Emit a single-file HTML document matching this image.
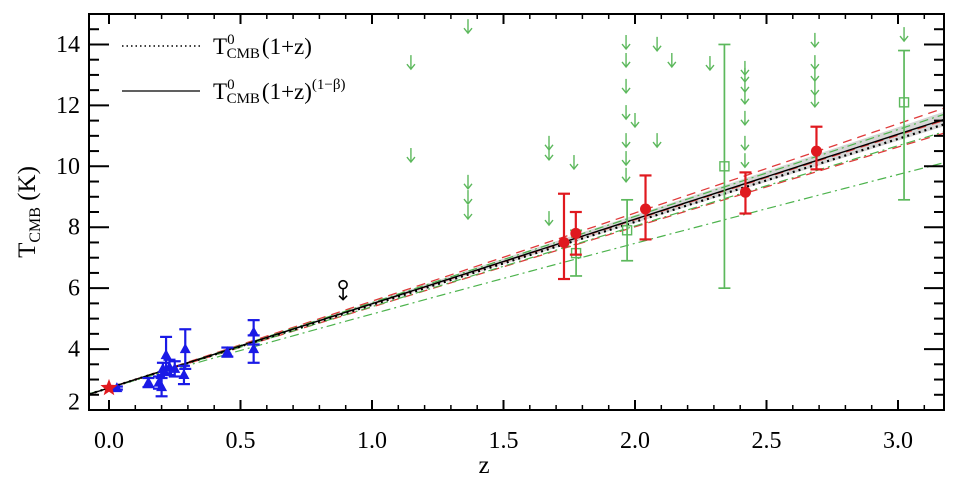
<!DOCTYPE html>
<html><head><meta charset="utf-8"><style>
html,body{margin:0;padding:0;background:#fff;}
svg{display:block;font-family:"Liberation Serif",serif;}
</style></head><body>
<svg id="chart" width="960" height="486" viewBox="0 0 960 486" xmlns="http://www.w3.org/2000/svg">
<g id="bands"></g>
<g id="marks"></g>
<g id="axes"></g>
<g>
<line x1="122" y1="46" x2="200" y2="46" stroke="#000" stroke-width="1.5" stroke-dasharray="1.5,3"/>
<text x="213" y="54" font-size="23">T<tspan font-size="15" dy="-10" dx="0">0</tspan><tspan font-size="15" dy="14" dx="-8">CMB</tspan><tspan dy="-4" dx="2">(1+z)</tspan></text>
<line x1="122" y1="91" x2="200" y2="91" stroke="#000" stroke-width="1.3"/>
<text x="213" y="99" font-size="23">T<tspan font-size="15" dy="-10">0</tspan><tspan font-size="15" dy="14" dx="-8">CMB</tspan><tspan dy="-4" dx="2">(1+z)</tspan><tspan font-size="15" dy="-10">(1−β)</tspan></text>
</g>
<text x="484" y="473" font-size="25" text-anchor="middle">z</text>
<text transform="translate(35,212) rotate(-90)" font-size="25" text-anchor="middle">T<tspan font-size="16" dy="5">CMB</tspan><tspan dy="-5"> (K)</tspan></text>
</svg>
<script>
const T0 = 2.725;
const xTicks = [0, 0.5, 1.0, 1.5, 2.0, 2.5, 3.0];
const xTickLabels = ["0.0","0.5","1.0","1.5","2.0","2.5","3.0"];
const yTicks = [2,4,6,8,10,12,14];
const yTickLabels = ["2","4","6","8","10","12","14"];
// blue (SZ) points
const blueZ = [0.03,0.15,0.19,0.20,0.205,0.217,0.23,0.25,0.285,0.29,0.45,0.55,0.55];
const blueT = [2.72,2.9,2.9,2.75,3.35,3.8,3.4,3.35,3.15,4.0,3.9,4.55,4.0];
const blueErr = [0.05,0.15,0.2,0.3,0.2,0.6,0.25,0.25,0.3,0.65,0.15,0.4,0.45];
// red circles
const redZ = [1.73,1.775,2.04,2.42,2.69];
const redT = [7.5,7.8,8.6,9.15,10.5];
const redLo = [1.2,0.7,1.0,0.7,0.6];
const redHi = [1.6,0.7,1.1,0.65,0.8];
// green squares
const greenZ = [1.776,1.97,2.34,3.023];
const greenT = [7.15,7.9,10.0,12.1];
const greenLo = [0.75,1.0,4.0,3.2];
const greenHi = [0.75,1.0,4.0,1.7];
// green upper limits
const limZ = [1.148,1.148,1.365,1.365,1.365,1.365,1.673,1.673,1.673,1.768,1.966,1.966,1.966,1.966,2.0,1.966,1.966,1.966,2.084,2.084,2.14,2.285,2.418,2.418,2.418,2.418,2.418,2.418,2.418,2.684,2.684,2.684,2.684,2.684,3.023];
const limT = [13.42,10.37,14.6,9.49,8.99,8.5,10.77,10.44,8.3,10.14,14.08,13.49,12.64,11.78,11.52,10.86,10.27,9.72,14.02,10.86,13.49,13.39,13.23,13.0,12.67,12.28,11.59,10.77,10.2,14.15,13.42,13.03,12.57,12.18,14.34];
// model exponents
const betaFit = 1.010;
const bandLo = 0.996, bandHi = 1.025;
const redDash = [1.032, 0.982, 1.008];
const greenDash = [1.02, 0.985, 0.918];

const L=89,R=944,Tp=14,B=410;
const zMin=-0.076,zMax=3.175,yMin=2,yMax=15;
const X=z=>109+(z)*263;
const Y=t=>B-(t-yMin)*(B-Tp)/(yMax-yMin);
const NS="http://www.w3.org/2000/svg";
function mk(parent,tag,attrs){const e=document.createElementNS(NS,tag);for(const k in attrs)e.setAttribute(k,attrs[k]);parent.appendChild(e);return e;}
const bands=document.getElementById('bands'),marks=document.getElementById('marks'),axes=document.getElementById('axes');
function curve(p){const pts=[];for(let i=0;i<=60;i++){const z=zMin+(zMax-zMin)*i/60;pts.push([X(z),Y(T0*Math.pow(1+z,p))]);}return pts;}
const clip=mk(document.getElementById('chart'),'clipPath',{id:'pc'});mk(clip,'rect',{x:L,y:Tp,width:R-L,height:B-Tp});
bands.setAttribute('clip-path','url(#pc)');marks.setAttribute('clip-path','url(#pc)');
const up=curve(bandHi),lo=curve(bandLo).reverse();
const band=mk(bands,'path',{d:'M'+up.concat(lo).map(p=>p.join(',')).join('L')+'Z',fill:'#d6d6d6'});


redDash.forEach(p=>{const e=mk(bands,'polyline',{points:curve(p).join(' '),fill:'none',stroke:'#e03a3a','stroke-width':1.3,'stroke-dasharray':'9,6'});

});
greenDash.forEach(p=>{const e=mk(bands,'polyline',{points:curve(p).join(' '),fill:'none',stroke:'#4db34d','stroke-width':1.2,'stroke-dasharray':'9,4,2,4'});

});
const sol=mk(bands,'polyline',{points:curve(betaFit).join(' '),fill:'none',stroke:'#000','stroke-width':1.4});


const dot=mk(bands,'polyline',{points:curve(1).join(' '),fill:'none',stroke:'#000','stroke-width':2.2,'stroke-dasharray':'2,4'});



function errbar(z,t,lo,hi,col,w){const x=X(z);
mk(marks,'line',{x1:x,x2:x,y1:Y(t-lo),y2:Y(t+hi),stroke:col,'stroke-width':w});
mk(marks,'line',{x1:x-6,x2:x+6,y1:Y(t-lo),y2:Y(t-lo),stroke:col,'stroke-width':w});
mk(marks,'line',{x1:x-6,x2:x+6,y1:Y(t+hi),y2:Y(t+hi),stroke:col,'stroke-width':w});}
limZ.forEach((z,i)=>{const x=X(z),y=Y(limT[i]);const g=mk(marks,'g',{stroke:'#5cb85c','stroke-width':1.4,fill:'none'});


mk(g,'line',{x1:x,x2:x,y1:y-7,y2:y+7});mk(g,'polyline',{points:`${x-4},${y+2} ${x},${y+7} ${x+4},${y+2}`});});
greenZ.forEach((z,i)=>{errbar(z,greenT[i],greenLo[i],greenHi[i],'#5cb85c',1.7);
const r=mk(marks,'rect',{x:X(z)-4.5,y:Y(greenT[i])-4.5,width:9,height:9,fill:'none',stroke:'#5cb85c','stroke-width':1.4});

});
redZ.forEach((z,i)=>{errbar(z,redT[i],redLo[i],redHi[i],'#e0191f',2.2);
const c=mk(marks,'circle',{cx:X(z),cy:Y(redT[i]),r:5.5,fill:'#e0191f'});

});
blueZ.forEach((z,i)=>{errbar(z,blueT[i],blueErr[i],blueErr[i],'#1a1ae6',2.2);
const x=X(z),y=Y(blueT[i]);
const p=mk(marks,'polygon',{points:`${x},${y-6} ${x-5.5},${y+4} ${x+5.5},${y+4}`,fill:'#1a1ae6'});

});
{const cx=X(0),cy=Y(T0);let pts=[];for(let k=0;k<10;k++){const a=-Math.PI/2+k*Math.PI/5,r=k%2?3.8:9;pts.push((cx+r*Math.cos(a)).toFixed(1)+','+(cy+r*Math.sin(a)).toFixed(1));}
const s=mk(marks,'polygon',{points:pts.join(' '),fill:'#e0191f'});

}
{const x=X(0.89),y=Y(5.95);const g=mk(marks,'g',{stroke:'#000','stroke-width':1.6,fill:'none'});


mk(g,'circle',{cx:x,cy:y-5,r:4});mk(g,'line',{x1:x,x2:x,y1:y-1,y2:y+10});mk(g,'polyline',{points:`${x-4},${y+6} ${x},${y+10} ${x+4},${y+6}`});}
const fr=mk(axes,'rect',{x:L,y:Tp,width:R-L,height:B-Tp,fill:'none',stroke:'#000','stroke-width':2});


for(let k=0;k<=31;k++){const z=k/10;const x=X(z);if(x<L||x>R)continue;const maj=k%5===0;const l=maj?10:5;
mk(axes,'line',{x1:x,x2:x,y1:B,y2:B-l,stroke:'#000','stroke-width':maj?2:1.5});
mk(axes,'line',{x1:x,x2:x,y1:Tp,y2:Tp+l,stroke:'#000','stroke-width':maj?2:1.5});}
for(let k=4;k<=30;k++){const t=k/2;const y=Y(t);if(y<Tp||y>B)continue;const maj=k%4===0;const l=maj?20:10;
mk(axes,'line',{x1:L,x2:L+l,y1:y,y2:y,stroke:'#000','stroke-width':2});
mk(axes,'line',{x1:R,x2:R-l,y1:y,y2:y,stroke:'#000','stroke-width':2});}
xTicks.forEach((v,i)=>{const t=mk(axes,'text',{x:X(v),y:448,'font-size':24,'text-anchor':'middle'});t.textContent=xTickLabels[i];

});
yTicks.forEach((v,i)=>{const t=mk(axes,'text',{x:80,y:Y(v)+2-(i===0?8:0),'font-size':24,'text-anchor':'end','dominant-baseline':'middle'});t.textContent=yTickLabels[i];

});
</script>
</body></html>
